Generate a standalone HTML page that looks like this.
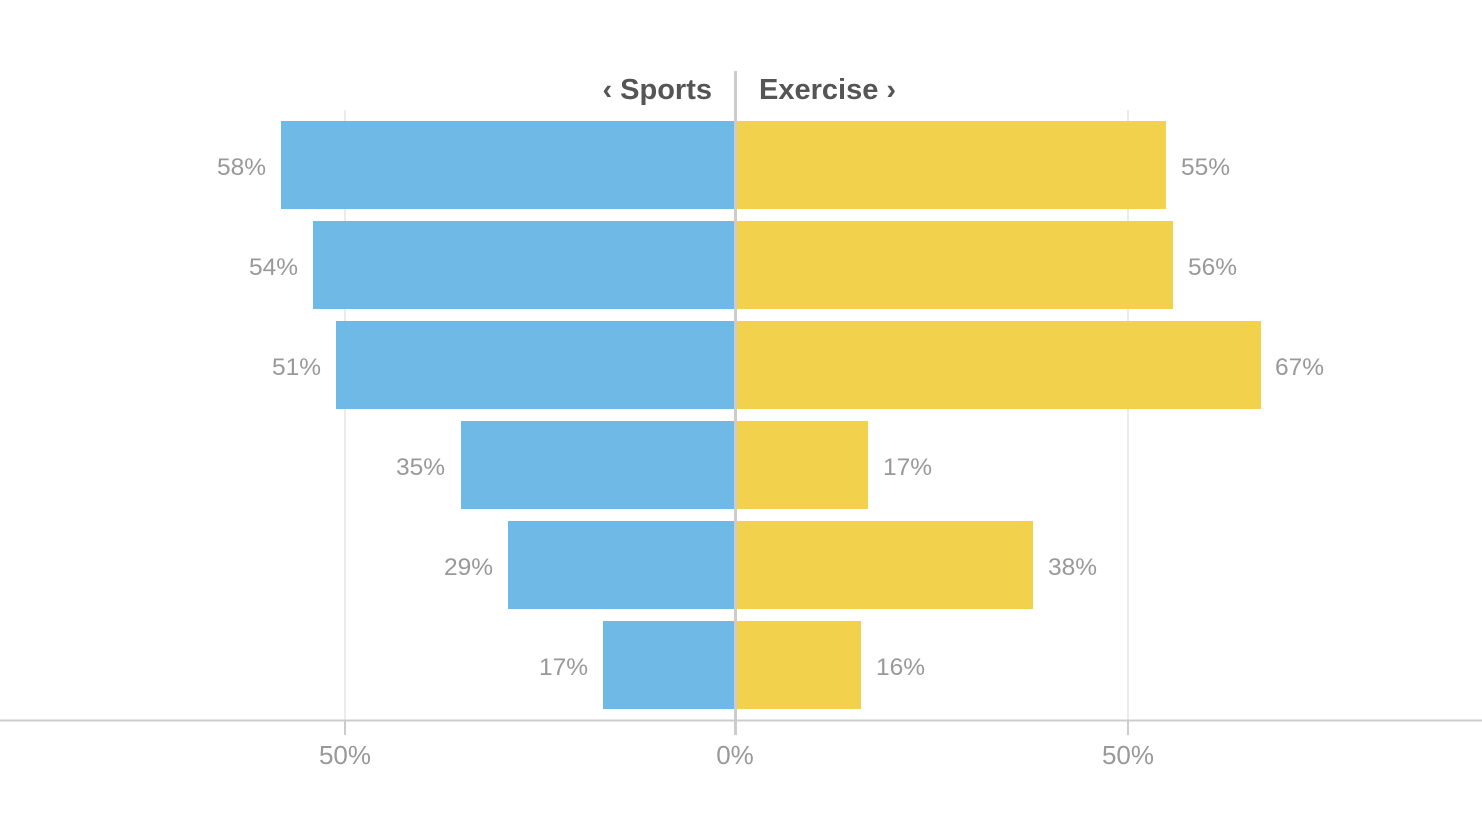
<!DOCTYPE html>
<html><head><meta charset="utf-8"><style>
html,body{margin:0;padding:0;background:#fff;}
svg{display:block;font-family:"Liberation Sans",Arial,sans-serif;}
</style></head><body>
<svg width="1482" height="834" viewBox="0 0 1482 834">
<line x1="345" y1="110" x2="345" y2="720" stroke="#ebebeb" stroke-width="2"/>
<line x1="1128" y1="110" x2="1128" y2="720" stroke="#ebebeb" stroke-width="2"/>
<g fill="#6fb9e6">
<rect x="281" y="121" width="454" height="88"/>
<rect x="313" y="221" width="422" height="88"/>
<rect x="336" y="321" width="399" height="88"/>
<rect x="461" y="421" width="274" height="88"/>
<rect x="508" y="521" width="227" height="88"/>
<rect x="603" y="621" width="132" height="88"/>
</g>
<g fill="#f2d24d">
<rect x="736" y="121" width="430" height="88"/>
<rect x="736" y="221" width="437" height="88"/>
<rect x="736" y="321" width="525" height="88"/>
<rect x="736" y="421" width="132" height="88"/>
<rect x="736" y="521" width="297" height="88"/>
<rect x="736" y="621" width="125" height="88"/>
</g>
<line x1="735.5" y1="71" x2="735.5" y2="735" stroke="#cccccc" stroke-width="3"/>
<line x1="0" y1="720.5" x2="1482" y2="720.5" stroke="#cccccc" stroke-width="2"/>
<line x1="345" y1="720" x2="345" y2="735" stroke="#cccccc" stroke-width="2"/>
<line x1="1128" y1="720" x2="1128" y2="735" stroke="#cccccc" stroke-width="2"/>
<g fill="#555" font-weight="bold" font-size="29">
<text x="712" y="99" text-anchor="end">‹ Sports</text>
<text x="759" y="99">Exercise ›</text>
</g>
<g fill="#999" font-size="24.5">
<text x="266" y="175" text-anchor="end">58%</text>
<text x="298" y="275" text-anchor="end">54%</text>
<text x="321" y="375" text-anchor="end">51%</text>
<text x="445" y="475" text-anchor="end">35%</text>
<text x="493" y="575" text-anchor="end">29%</text>
<text x="588" y="675" text-anchor="end">17%</text>
<text x="1181" y="175">55%</text>
<text x="1188" y="275">56%</text>
<text x="1275" y="375">67%</text>
<text x="883" y="475">17%</text>
<text x="1048" y="575">38%</text>
<text x="876" y="675">16%</text>
</g>
<g fill="#999" font-size="26">
<text x="345" y="764" text-anchor="middle">50%</text>
<text x="735" y="764" text-anchor="middle">0%</text>
<text x="1128" y="764" text-anchor="middle">50%</text>
</g>
</svg>
</body></html>
